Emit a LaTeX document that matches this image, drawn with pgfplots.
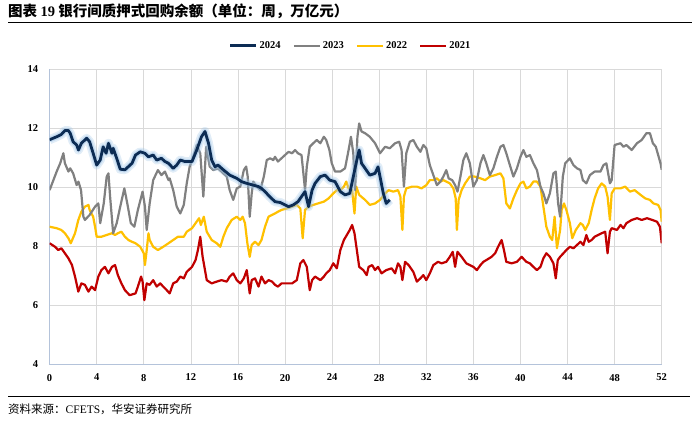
\documentclass[border=0pt]{standalone}
\usepackage{pgfplots}
\pgfplotsset{compat=1.18}
\usepackage{pgfplotstable}
\usepackage{fontspec}
\setmainfont{Liberation Serif}
\newfontfamily\cjk{Noto Sans CJK SC}
\definecolor{c24}{HTML}{0C2C54}
\definecolor{glow}{HTML}{9DC3E6}
\definecolor{c23}{HTML}{808080}
\definecolor{c22}{HTML}{FFC000}
\definecolor{c21}{HTML}{C00000}
\definecolor{gridc}{HTML}{D9D9D9}
\definecolor{axc}{HTML}{B4C3DA}

\pgfplotstableread{
w v
0 11.62
0.6 11.72
1.0 11.8
1.3 11.93
1.6 11.93
1.75 11.84
2.0 11.55
2.3 11.44
2.45 11.27
2.7 11.5
3.15 11.67
3.4 11.55
3.7 11.16
4.0 10.76
4.3 10.93
4.55 11.38
4.8 11.16
5.0 11.5
5.3 11.16
5.4 11.33
5.7 10.99
6.0 10.62
6.4 10.6
7.0 10.82
7.3 11.1
7.7 11.21
8.1 11.16
8.4 11.04
8.8 11.1
9.1 10.93
9.5 10.99
9.8 10.88
10.1 10.82
10.5 10.65
10.8 10.76
11.1 10.93
11.5 10.88
12.1 10.88
12.5 11.27
12.9 11.72
13.2 11.9
13.5 11.5
13.77 10.93
14.05 10.7
14.3 10.76
14.76 10.6
15.3 10.42
15.9 10.31
16.3 10.2
16.75 10.14
17.3 10.08
17.75 10.03
18.0 9.97
18.3 9.86
18.7 9.69
19.15 9.52
19.6 9.49
20.0 9.41
20.3 9.35
20.7 9.41
21.1 9.52
21.4 9.69
21.7 9.86
22.0 9.35
22.3 9.91
22.55 10.14
23.0 10.37
23.4 10.42
23.8 10.25
24.25 10.2
24.7 9.86
25.1 9.75
25.5 9.8
25.8 10.37
26.1 10.93
26.3 11.27
26.5 10.82
26.8 10.65
27.2 10.42
27.65 10.48
27.9 10.7
28.07 10.37
28.35 9.8
28.6 9.46
28.9 9.58
}\dA

\pgfplotstableread{
w v
0 9.91
0.6 10.54
0.9 10.82
1.17 11.16
1.3 10.82
1.6 10.54
1.75 10.65
2.0 10.48
2.3 10.08
2.45 10.2
2.67 9.91
2.87 9.01
3.0 8.9
3.4 9.07
3.86 9.35
4.14 9.46
4.3 8.79
4.6 9.46
4.85 10.37
5.0 10.48
5.14 9.69
5.4 8.45
5.7 8.79
6.0 9.35
6.35 9.97
6.6 9.46
6.9 8.79
7.2 8.67
7.5 9.24
7.9 9.86
8.1 9.35
8.25 8.56
8.5 9.46
8.8 10.25
9.2 10.59
9.5 10.42
9.8 10.54
10.1 10.25
10.2 10.31
10.5 9.91
10.8 9.35
11.1 9.12
11.4 9.41
11.65 10.14
11.9 10.71
12.2 11.04
12.5 11.44
12.8 11.16
13.06 9.69
13.3 11.38
13.6 10.71
13.9 10.59
14.3 10.65
14.76 10.48
15.05 10.37
15.3 9.91
15.6 9.58
15.9 9.97
16.2 10.03
16.5 10.59
16.7 10.71
16.83 10.37
17.0 9.01
17.17 9.8
17.3 10.2
17.6 10.03
17.9 9.91
18.2 10.37
18.45 10.93
18.73 10.99
19.0 10.93
19.15 11.04
19.4 10.88
19.7 10.99
20.0 11.1
20.3 11.21
20.6 11.16
20.85 11.27
21.1 11.16
21.4 11.1
21.56 10.48
21.7 9.91
21.85 10.71
22.1 11.38
22.4 11.5
22.7 11.61
23.0 11.5
23.3 11.72
23.5 11.61
23.77 11.27
23.97 10.82
24.25 10.54
24.7 10.54
25.1 10.65
25.4 11.27
25.6 11.72
25.8 11.16
25.95 9.91
26.15 11.72
26.3 12.17
26.5 11.9
26.8 11.84
27.2 11.72
27.65 11.5
28.07 11.16
28.5 11.38
28.9 11.33
29.35 11.5
29.7 11.55
29.9 11.27
30.1 10.03
30.3 11.16
30.6 11.55
30.9 11.61
31.2 11.38
31.5 11.21
31.75 11.44
32.0 11.33
32.3 10.76
32.6 10.42
32.9 10.08
33.2 10.2
33.45 10.37
33.7 10.59
33.9 10.31
34.2 10.25
34.45 10.08
34.65 9.86
34.9 10.37
35.15 10.93
35.4 11.16
35.7 10.82
36.0 10.03
36.3 10.25
36.6 10.82
36.85 11.1
37.1 10.82
37.4 10.42
37.7 10.65
38.0 11.04
38.3 11.38
38.55 11.44
38.8 11.16
39.1 10.76
39.4 10.37
39.7 10.65
40.0 11.04
40.25 11.27
40.5 11.04
40.8 11.1
41.1 10.82
41.4 10.59
41.7 10.03
41.95 9.8
42.2 9.46
42.5 9.8
42.8 10.48
43.0 10.54
43.2 9.46
43.37 9.01
43.6 10.37
43.8 10.82
44.2 10.99
44.5 10.76
44.8 10.65
45.1 10.59
45.3 10.25
45.6 10.14
45.9 10.42
46.3 10.54
46.8 10.54
47.05 10.76
47.3 10.82
47.6 10.14
47.75 10.25
48.0 11.44
48.5 11.5
48.75 11.38
49.0 11.44
49.45 11.27
49.9 11.5
50.3 11.61
50.7 11.84
51.0 11.84
51.25 11.5
51.5 11.38
51.9 10.82
52 10.6
}\dB

\pgfplotstableread{
w v
0 8.67
0.6 8.62
1.0 8.56
1.3 8.45
1.6 8.28
1.8 8.11
2.16 8.45
2.44 8.9
2.7 9.18
3.0 9.35
3.3 9.41
3.4 9.24
3.7 9.01
3.86 8.67
4.0 8.33
4.4 8.33
4.85 8.39
5.3 8.45
5.56 8.39
5.8 8.45
6.1 8.5
6.4 8.33
6.7 8.22
7.0 8.16
7.3 8.11
7.7 7.99
8.0 7.77
8.1 7.37
8.25 7.88
8.4 8.45
8.5 8.22
8.8 7.99
9.2 7.88
9.65 7.99
10.1 8.11
10.5 8.22
10.9 8.33
11.4 8.33
11.65 8.5
12.1 8.62
12.4 8.79
12.7 8.96
12.85 8.73
13.1 9.01
13.35 8.5
13.77 8.22
14.2 8.11
14.5 7.99
14.76 8.33
15.05 8.62
15.47 8.9
15.9 9.01
16.2 8.9
16.4 9.01
16.6 8.79
16.8 8.11
17.0 7.65
17.17 8.05
17.45 8.16
17.75 8.05
18.0 8.22
18.3 8.67
18.6 9.01
18.9 9.07
19.15 9.12
19.4 9.18
19.7 9.24
20.15 9.29
20.6 9.35
21.0 9.41
21.3 9.29
21.5 8.28
21.7 9.24
22.0 9.35
22.4 9.41
22.8 9.46
23.3 9.52
23.7 9.63
24.1 9.8
24.4 9.91
24.7 9.91
25.0 10.03
25.2 10.2
25.4 9.97
25.7 9.91
25.9 9.12
26.05 10.03
26.3 9.75
26.8 9.58
27.2 9.41
27.65 9.46
28.07 9.58
28.5 9.8
28.8 9.91
29.2 9.86
29.6 9.91
29.8 9.69
29.97 8.56
30.1 9.69
30.3 9.97
30.8 10.03
31.2 10.03
31.6 9.97
32.0 10.08
32.3 10.25
32.6 10.25
32.9 10.31
33.2 10.2
33.45 10.25
33.7 10.2
34.0 10.14
34.3 9.97
34.5 9.63
34.6 8.56
34.75 9.58
35.0 9.91
35.3 10.14
35.7 10.37
36.1 10.37
36.6 10.31
37.0 10.25
37.4 10.37
37.85 10.42
38.3 10.48
38.55 10.31
38.8 9.46
39.1 9.29
39.4 9.63
39.7 9.91
40.0 10.14
40.25 10.2
40.5 9.97
40.8 10.03
41.1 10.2
41.4 10.2
41.7 10.03
41.95 9.35
42.2 8.67
42.5 8.33
42.7 8.22
42.9 9.01
43.1 7.94
43.37 8.56
43.5 9.24
43.7 9.46
43.9 9.24
44.2 8.79
44.4 8.28
44.7 8.56
45.1 8.79
45.3 8.73
45.5 8.56
45.8 8.79
46.05 9.24
46.3 9.63
46.6 9.97
46.9 10.14
47.2 10.03
47.4 9.69
47.6 8.9
47.75 9.8
48.0 9.97
48.5 9.97
48.9 10.03
49.3 9.86
49.7 9.91
50.2 9.75
50.6 9.63
51.0 9.58
51.3 9.46
51.7 9.41
51.9 9.24
52 8.84
}\dC

\pgfplotstableread{
w v
0 8.11
0.46 7.99
0.74 7.88
1.0 7.94
1.3 7.77
1.6 7.6
1.9 7.37
2.16 6.98
2.44 6.47
2.7 6.75
3.0 6.7
3.3 6.47
3.57 6.64
3.86 6.52
4.14 6.98
4.4 7.2
4.7 7.31
5.0 7.09
5.3 7.31
5.56 7.37
5.8 7.03
6.1 6.75
6.4 6.52
6.8 6.35
7.3 6.41
7.5 6.64
7.77 6.98
7.9 6.81
8.05 6.18
8.25 6.75
8.5 6.7
8.8 6.86
9.1 6.64
9.4 6.75
9.65 6.64
9.95 6.52
10.2 6.41
10.5 6.75
10.8 6.81
11.1 6.98
11.4 6.92
11.65 7.14
12.1 7.31
12.4 7.54
12.6 7.88
12.8 8.33
13.0 7.65
13.2 7.2
13.35 6.86
13.77 6.75
14.2 6.81
14.6 6.86
15.05 6.81
15.3 6.98
15.6 7.09
15.9 6.86
16.2 6.75
16.5 6.92
16.75 7.2
17.0 6.41
17.17 6.86
17.45 6.92
17.75 6.64
18.0 6.98
18.3 6.75
18.6 6.86
18.9 6.81
19.15 6.7
19.4 6.64
19.7 6.75
20.15 6.75
20.6 6.75
21.0 6.86
21.3 7.43
21.56 7.54
21.85 7.31
22.1 6.52
22.3 6.86
22.55 6.98
23.0 6.86
23.3 6.98
23.5 7.09
23.8 7.2
24.1 7.43
24.4 7.26
24.7 7.88
25.0 8.22
25.25 8.39
25.5 8.56
25.7 8.73
25.9 8.45
26.1 7.88
26.3 7.31
26.65 7.2
26.94 7.03
27.1 7.31
27.4 7.37
27.65 7.2
27.9 7.31
28.2 7.09
28.6 7.2
29.06 7.26
29.35 7.09
29.6 7.43
29.8 7.31
29.97 6.86
30.2 7.48
30.5 7.37
30.9 7.14
31.2 6.81
31.5 6.92
31.75 7.03
32.0 6.86
32.3 7.09
32.6 7.37
33.0 7.48
33.3 7.43
33.7 7.48
34.0 7.65
34.25 7.82
34.45 7.31
34.65 7.82
35.0 7.65
35.4 7.43
35.7 7.37
36.0 7.31
36.3 7.2
36.6 7.37
36.85 7.48
37.1 7.54
37.55 7.65
37.85 7.77
38.1 7.99
38.4 8.22
38.6 7.88
38.8 7.48
39.25 7.43
39.7 7.48
40.1 7.65
40.5 7.48
40.8 7.43
41.1 7.31
41.4 7.2
41.7 7.31
41.95 7.6
42.2 7.77
42.5 7.65
42.8 7.43
43.0 6.92
43.17 7.54
43.37 7.65
43.65 7.77
43.9 7.88
44.2 7.99
44.5 7.94
44.8 8.05
45.1 8.16
45.35 8.05
45.6 8.39
45.8 8.16
46.05 8.22
46.3 8.33
46.6 8.39
46.9 8.45
47.2 8.5
47.4 7.77
47.6 8.5
47.75 8.62
48.2 8.56
48.5 8.73
48.75 8.62
49.0 8.79
49.45 8.9
49.9 8.96
50.3 8.9
50.75 8.96
51.2 8.9
51.6 8.84
51.85 8.67
52 8.11
}\dD

\begin{document}
\begin{tikzpicture}[x=1pt,y=1pt]
\useasboundingbox (0,0) rectangle (700,420);
\node[anchor=west,inner sep=0pt] at (8,409) {\cjk\bfseries\fontsize{14.5}{16}\selectfont 图表 {\rmfamily\bfseries 19} 银行间质押式回购余额（单位：周，万亿元）};
\draw[line width=1.2pt] (8,397.5) -- (692,397.5);
\draw[line width=1pt] (8,24) -- (690,24);
\node[anchor=west,inner sep=0pt] at (8,11) {\cjk\fontsize{11.5}{13}\selectfont 资料来源：{\rmfamily CFETS}，华安证券研究所};
\begin{axis}[
  at={(49.6pt,55.5pt)}, anchor=south west,
  scale only axis, width=612.1pt, height=295pt,
  xmin=0, xmax=52, ymin=4, ymax=14,
  xtick={0,4,...,52}, ytick={4,6,...,14},
  grid=major, major grid style={gridc, line width=0.6pt},
  axis x line*=bottom, axis y line*=left,
  axis line style={axc, line width=0.9pt},
  major tick length=0pt,
  /pgf/number format/assume math mode=true,
  tick label style={font=\bfseries\fontsize{10.5}{12}\selectfont, text=black},
  yticklabel style={xshift=-8pt},
  xticklabel style={yshift=-6pt},
  legend columns=4,
  legend style={at={(0.4917,1.0807)}, anchor=center, draw=none, fill=none,
    font=\bfseries\fontsize{10.5}{12}\selectfont, inner sep=0pt,
    /tikz/every even column/.append style={column sep=10pt}},
  legend image code/.code={\draw[#1] (0pt,0pt) -- (26pt,0pt);},
  line join=round,
]
\addlegendimage{c24, line width=2.8pt}
\addlegendentry{2024}
\addlegendimage{c23, line width=2.2pt}
\addlegendentry{2023}
\addlegendimage{c22, line width=2.2pt}
\addlegendentry{2022}
\addlegendimage{c21, line width=2.2pt}
\addlegendentry{2021}
\addplot[c21, line width=2.2pt, forget plot] table[x=w,y=v] {\dD};
\addplot[c22, line width=2.2pt, forget plot] table[x=w,y=v] {\dC};
\addplot[c23, line width=2.2pt, forget plot] table[x=w,y=v] {\dB};
\addplot[glow, opacity=0.3, line width=9pt, forget plot] table[x=w,y=v] {\dA};
\addplot[glow, opacity=0.45, line width=5.5pt, forget plot] table[x=w,y=v] {\dA};
\addplot[c24, line width=2.8pt, forget plot] table[x=w,y=v] {\dA};
\end{axis}
\end{tikzpicture}
\end{document}
